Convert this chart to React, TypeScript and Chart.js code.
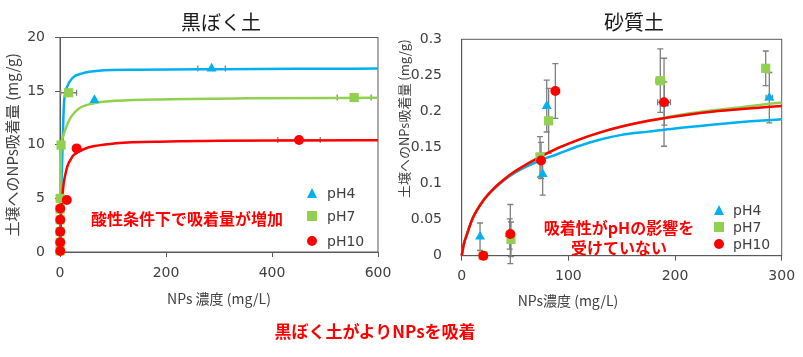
import React, { useEffect, useRef } from "react";
import { Chart, registerables } from "chart.js";
Chart.register(...registerables);

// ---------------- data ----------------
// Left panel: 黒ぼく土
const L_PH4_X = [0.3, 0.3, 0.3, 0.4, 65, 286];
const L_PH4_Y = [1, 2, 3, 4, 14.17, 17.1];
const L_PH4_XERR = [0, 0, 0, 0, 0, 26];

const L_PH7_X = [0.2, 0.2, 0.2, 0.2, 0.3, 0.2, 2, 16.3, 555];
const L_PH7_Y = [0.1, 0.9, 1.9, 3.0, 4.0, 5.0, 9.97, 14.85, 14.4];
const L_PH7_XERR = [0, 0, 0, 0, 0, 0, 0, 15, 32];

const L_PH10_X = [0.5, 0.5, 0.5, 0.5, 0.5, 12.9, 31.4, 451];
const L_PH10_Y = [0.1, 0.9, 1.9, 3.0, 4.05, 4.85, 9.66, 10.45];
const L_PH10_XERR = [0, 0, 0, 0, 0, 0, 0, 40];

const L_FIT4_X = [0, 1, 2.5, 4.2, 5.5, 7.2, 9, 13.4, 23, 42, 73, 150, 300, 450, 600];
const L_FIT4_Y = [0, 3, 6, 8.6, 11, 13.6, 14.6, 15.4, 16.2, 16.65, 16.9, 17.0, 17.05, 17.08, 17.1];
const L_FIT7_X = [0, 0.6, 1.5, 3, 6, 11.3, 20.8, 36.5, 61.7, 105, 206, 350, 600];
const L_FIT7_Y = [0, 5, 8.5, 10.1, 10.8, 11.6, 12.6, 13.4, 13.85, 14.1, 14.25, 14.33, 14.38];
const L_FIT10_X = [0, 1, 2, 4, 7, 10.4, 14, 19.8, 26, 35.5, 54.4, 105, 206, 300, 450, 600];
const L_FIT10_Y = [0, 2, 3.5, 4.9, 6.4, 7.3, 8.0, 8.6, 9.05, 9.35, 9.76, 10.13, 10.3, 10.37, 10.4, 10.42];

const L_X_TICKS = ["0", "200", "400", "600"];
const L_Y_TICKS = ["0", "5", "10", "15", "20"];

// Right panel: 砂質土
const R_PH4_X = [17.2, 45, 75.9, 79.7, 190, 288.4];
const R_PH4_Y = [0.0263, 0.03, 0.113, 0.2075, 0.211, 0.219];
const R_PH4_YERR = [0.019, 0.021, 0.029, 0.036, 0.03, 0.035];
const R_PH4_XERR = [0, 0, 0, 0, 3, 3];

const R_PH7_X = [20, 46.2, 73.4, 81.5, 186.2, 285];
const R_PH7_Y = [0, 0.0227, 0.137, 0.187, 0.2426, 0.2598];
const R_PH7_YERR = [0, 0.024, 0.028, 0.045, 0.044, 0.024];
const R_PH7_XERR = [0, 0, 0, 0, 4, 0];

const R_PH10_X = [20.3, 45.6, 74.4, 87.8, 189.7];
const R_PH10_Y = [0, 0.03, 0.132, 0.2283, 0.2127];
const R_PH10_YERR = [0, 0.041, 0.025, 0.038, 0.061];
const R_PH10_XERR = [0, 0, 0, 0, 6];

const R_FIT_X = [0, 2, 5, 10, 20, 30, 40, 50, 60, 75, 90, 110, 130, 150, 175, 200, 230, 260, 300];
const R_FIT4_Y = [0, 0.016, 0.03, 0.051, 0.076, 0.092, 0.105, 0.115, 0.123, 0.133, 0.141, 0.152, 0.161, 0.1675, 0.172, 0.1765, 0.181, 0.185, 0.189];
const R_FIT7_Y = [0, 0.016, 0.03, 0.051, 0.076, 0.093, 0.106, 0.117, 0.126, 0.138, 0.149, 0.161, 0.171, 0.179, 0.187, 0.194, 0.2005, 0.2055, 0.2125];
const R_FIT10_Y = [0, 0.016, 0.03, 0.051, 0.076, 0.093, 0.106, 0.117, 0.126, 0.138, 0.149, 0.161, 0.171, 0.179, 0.187, 0.193, 0.199, 0.203, 0.2075];

const R_X_TICKS = ["0", "100", "200", "300"];
const R_Y_TICKS = ["0", "0.05", "0.1", "0.15", "0.2", "0.25", "0.3"];

const LEGEND_LABELS = ["pH4", "pH7", "pH10"];
const LEFT_TITLE = "黒ぼく土";
const RIGHT_TITLE = "砂質土";
const Y_TITLE = "土壌へのNPs吸着量 (mg/g)";
const LEFT_X_TITLE = "NPs 濃度 (mg/L)";
const RIGHT_X_TITLE = "NPs濃度 (mg/L)";
const LEFT_NOTE = "酸性条件下で吸着量が増加";
const RIGHT_NOTE = ["吸着性がpHの影響を", "受けていない"];
const BOTTOM_NOTE = "黒ぼく土がよりNPsを吸着";

// ---------------- styles ----------------
const BLUE = "#00B0F0";
const GREEN = "#92D050";
const RED = "#FF0000";
const AXIS = "#595959";
const TXT = "#404040";
const CJK = '"Noto Sans CJK JP", sans-serif';
const NUM = '"DejaVu Sans", sans-serif';

const pts = (xs: number[], ys: number[]) => xs.map((x, i) => ({ x, y: ys[i] }));

type ErrSeries = { xs: number[]; ys: number[]; xErr?: number[]; yErr?: number[] };

function makeErrorBars(series: ErrSeries[]) {
  return {
    id: "errorBars",
    beforeDatasetsDraw(chart: any) {
      const { ctx } = chart;
      const sx = chart.scales.x;
      const sy = chart.scales.y;
      const cap = 3;
      ctx.save();
      ctx.strokeStyle = "#7F7F7F";
      ctx.lineWidth = 1.3;
      for (const s of series) {
        s.xs.forEach((xv, i) => {
          const yv = s.ys[i];
          const px = sx.getPixelForValue(xv);
          const py = sy.getPixelForValue(yv);
          const ye = s.yErr ? s.yErr[i] : 0;
          if (ye) {
            const t = sy.getPixelForValue(yv + ye);
            const b = sy.getPixelForValue(yv - ye);
            ctx.beginPath();
            ctx.moveTo(px, t); ctx.lineTo(px, b);
            ctx.moveTo(px - cap, t); ctx.lineTo(px + cap, t);
            ctx.moveTo(px - cap, b); ctx.lineTo(px + cap, b);
            ctx.stroke();
          }
          const xe = s.xErr ? s.xErr[i] : 0;
          if (xe) {
            const l = sx.getPixelForValue(xv - xe);
            const r = sx.getPixelForValue(xv + xe);
            ctx.beginPath();
            ctx.moveTo(l, py); ctx.lineTo(r, py);
            ctx.moveTo(l, py - cap); ctx.lineTo(l, py + cap);
            ctx.moveTo(r, py - cap); ctx.lineTo(r, py + cap);
            ctx.stroke();
          }
        });
      }
      ctx.restore();
    },
  };
}

const framePlugin = {
  id: "frame",
  beforeDatasetsDraw(chart: any) {
    const { ctx, chartArea: a } = chart;
    ctx.save();
    ctx.strokeStyle = AXIS;
    ctx.lineWidth = 1;
    ctx.strokeRect(a.left, a.top, a.right - a.left, a.bottom - a.top);
    ctx.restore();
  },
};

function markerSets(d4: any[], d7: any[], d10: any[], r: number) {
  return [
    { type: "scatter", data: d10, pointStyle: "circle", pointRadius: r, pointBackgroundColor: RED, pointBorderWidth: 0, backgroundColor: RED, borderColor: RED, showLine: false, order: 0, clip: false },
    { type: "scatter", data: d7, pointStyle: "rect", pointRadius: r * 1.3, pointBackgroundColor: GREEN, pointBorderWidth: 0, backgroundColor: GREEN, borderColor: GREEN, showLine: false, order: 0, clip: false },
    { type: "scatter", data: d4, pointStyle: "triangle", pointRadius: r * 1.15, pointBackgroundColor: BLUE, pointBorderWidth: 0, backgroundColor: BLUE, borderColor: BLUE, showLine: false, order: 0, clip: false },
  ];
}

function lineSet(data: any[], color: string, order: number) {
  return {
    type: "line", data, borderColor: color, backgroundColor: color, borderWidth: 2.5,
    pointRadius: 0, fill: false, cubicInterpolationMode: "monotone", order, clip: false,
  };
}

const tickFont = { family: NUM, size: 14 };

function leftConfig(): any {
  return {
    type: "scatter",
    data: {
      datasets: [
        ...markerSets(pts(L_PH4_X, L_PH4_Y), pts(L_PH7_X, L_PH7_Y), pts(L_PH10_X, L_PH10_Y), 5),
        lineSet(pts(L_FIT10_X, L_FIT10_Y), RED, 1),
        lineSet(pts(L_FIT7_X, L_FIT7_Y), GREEN, 2),
        lineSet(pts(L_FIT4_X, L_FIT4_Y), BLUE, 3),
      ],
    },
    options: {
      responsive: false,
      animation: false,
      layout: { padding: { left: 0, right: 22, top: 37.5, bottom: 0 } },
      plugins: { legend: { display: false }, tooltip: { enabled: false }, title: { display: false } },
      scales: {
        x: {
          type: "linear", min: 0, max: 600,
          ticks: { stepSize: 200, color: TXT, font: tickFont, padding: 8, maxRotation: 0, callback: (_v: any, i: number) => L_X_TICKS[i] },
          grid: { drawOnChartArea: false, tickLength: 5, color: AXIS },
          border: { color: AXIS, width: 1 },
          title: { display: true, text: LEFT_X_TITLE, color: TXT, font: { family: CJK, size: 14, lineHeight: 1.2 }, padding: { top: 0, bottom: 13 } },
          afterFit: (s: any) => { s.height = 68; },
        },
        y: {
          type: "linear", min: 0, max: 20,
          ticks: { stepSize: 5, color: TXT, font: tickFont, padding: 10, callback: (_v: any, i: number) => L_Y_TICKS[i] },
          grid: { drawOnChartArea: false, tickLength: 5, color: AXIS },
          border: { color: AXIS, width: 1 },
          title: { display: true, text: Y_TITLE, color: TXT, font: { family: CJK, size: 15, lineHeight: 1.2 }, padding: { top: 3, bottom: 0 } },
          afterFit: (s: any) => { s.width = 60; },
        },
      },
    },
    plugins: [
      framePlugin,
      makeErrorBars([
        { xs: L_PH4_X, ys: L_PH4_Y, xErr: L_PH4_XERR },
        { xs: L_PH7_X, ys: L_PH7_Y, xErr: L_PH7_XERR },
        { xs: L_PH10_X, ys: L_PH10_Y, xErr: L_PH10_XERR },
      ]),
    ],
  };
}

function rightConfig(): any {
  return {
    type: "scatter",
    data: {
      datasets: [
        ...markerSets(pts(R_PH4_X, R_PH4_Y), pts(R_PH7_X, R_PH7_Y), pts(R_PH10_X, R_PH10_Y), 5),
        lineSet(pts(R_FIT_X, R_FIT10_Y), RED, 1),
        lineSet(pts(R_FIT_X, R_FIT7_Y), GREEN, 2),
        lineSet(pts(R_FIT_X, R_FIT4_Y), BLUE, 3),
      ],
    },
    options: {
      responsive: false,
      animation: false,
      layout: { padding: { left: 0, right: 21.3, top: 39.3, bottom: 0 } },
      plugins: { legend: { display: false }, tooltip: { enabled: false }, title: { display: false } },
      scales: {
        x: {
          type: "linear", min: 0, max: 300,
          ticks: { stepSize: 100, color: TXT, font: tickFont, padding: 7, maxRotation: 0, callback: (_v: any, i: number) => R_X_TICKS[i] },
          grid: { drawOnChartArea: false, tickLength: 5, color: AXIS },
          border: { color: AXIS, width: 1 },
          title: { display: false },
          afterFit: (s: any) => { s.height = 64.3; },
        },
        y: {
          type: "linear", min: 0, max: 0.3,
          ticks: { stepSize: 0.05, color: TXT, font: tickFont, padding: 11.7, callback: (_v: any, i: number) => R_Y_TICKS[i] },
          grid: { display: false },
          border: { display: true, color: AXIS, width: 1 },
          title: { display: true, text: Y_TITLE, align: "end", color: TXT, font: { family: CJK, size: 13, lineHeight: 1.2 }, padding: { top: 0, bottom: 0 } },
          afterFit: (s: any) => { s.width = 65.7; },
        },
      },
    },
    plugins: [
      framePlugin,
      makeErrorBars([
        { xs: R_PH4_X, ys: R_PH4_Y, xErr: R_PH4_XERR, yErr: R_PH4_YERR },
        { xs: R_PH7_X, ys: R_PH7_Y, xErr: R_PH7_XERR, yErr: R_PH7_YERR },
        { xs: R_PH10_X, ys: R_PH10_Y, xErr: R_PH10_XERR, yErr: R_PH10_YERR },
      ]),
    ],
  };
}

const centered = (cx: number, cy: number, extra: React.CSSProperties = {}): React.CSSProperties => ({
  position: "absolute", left: cx, top: cy, transform: "translate(-50%, -50%)", whiteSpace: "nowrap", lineHeight: 1, ...extra,
});

function Marker({ kind, cx, cy }: { kind: number; cx: number; cy: number }) {
  if (kind === 0) {
    return <div style={{ position: "absolute", left: cx - 5.5, top: cy - 5, width: 0, height: 0, borderLeft: "5.5px solid transparent", borderRight: "5.5px solid transparent", borderBottom: `10px solid ${BLUE}` }} />;
  }
  if (kind === 1) {
    return <div style={{ position: "absolute", left: cx - 5, top: cy - 5, width: 10, height: 10, background: GREEN }} />;
  }
  return <div style={{ position: "absolute", left: cx - 5, top: cy - 5, width: 10, height: 10, borderRadius: "50%", background: RED }} />;
}

function Legend({ mx, tx, ys }: { mx: number; tx: number; ys: number[] }) {
  return (
    <>
      {LEGEND_LABELS.map((lab, i) => (
        <React.Fragment key={lab}>
          <Marker kind={i} cx={mx} cy={ys[i]} />
          <div style={{ position: "absolute", left: tx, top: ys[i], transform: "translateY(-50%)", fontFamily: NUM, fontSize: 14, color: TXT, lineHeight: 1, whiteSpace: "nowrap" }}>{lab}</div>
        </React.Fragment>
      ))}
    </>
  );
}

export default function App() {
  const leftRef = useRef<HTMLCanvasElement>(null);
  const rightRef = useRef<HTMLCanvasElement>(null);

  useEffect(() => {
    const c1 = new Chart(leftRef.current as HTMLCanvasElement, leftConfig());
    const c2 = new Chart(rightRef.current as HTMLCanvasElement, rightConfig());
    return () => {
      c1.destroy();
      c2.destroy();
    };
  }, []);

  return (
    <div style={{ position: "absolute", left: 0, top: 0, width: 803, height: 357, background: "#fff", overflow: "hidden" }}>
      <canvas ref={leftRef} width={400} height={320} style={{ position: "absolute", left: 0, top: 0 }} />
      <canvas ref={rightRef} width={407} height={320} style={{ position: "absolute", left: 396, top: 0 }} />

      <div style={centered(221, 22, { fontFamily: CJK, fontSize: 20, color: "#1a1a1a" })}>{LEFT_TITLE}</div>
      <div style={centered(634, 22, { fontFamily: CJK, fontSize: 20, color: "#1a1a1a" })}>{RIGHT_TITLE}</div>

      <div style={centered(568, 300, { fontFamily: CJK, fontSize: 14, color: TXT })}>{RIGHT_X_TITLE}</div>

      <div style={centered(187, 218, { fontFamily: CJK, fontSize: 16, fontWeight: 700, color: RED })}>{LEFT_NOTE}</div>
      <div style={centered(619, 236.7, { fontFamily: CJK, fontSize: 16, fontWeight: 700, color: RED, lineHeight: "20px", textAlign: "center" })}>
        {RIGHT_NOTE[0]}
        <br />
        {RIGHT_NOTE[1]}
      </div>
      <div style={centered(375, 330, { fontFamily: CJK, fontSize: 17, fontWeight: 700, color: RED })}>{BOTTOM_NOTE}</div>

      <Legend mx={312} tx={327} ys={[193, 216, 241]} />
      <Legend mx={719} tx={733} ys={[210, 227, 244]} />
    </div>
  );
}
